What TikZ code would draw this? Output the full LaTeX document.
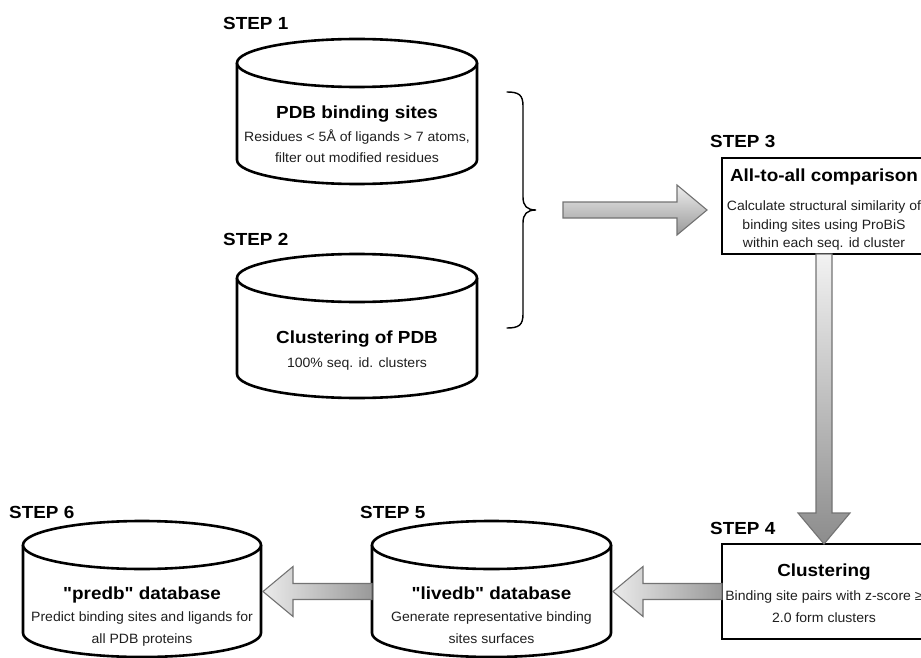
\documentclass[tikz,border=0pt]{standalone}
\usepackage{fontspec}
\setmainfont[FakeStretch=1.08, Ligatures=TeXOff]{Liberation Sans}
\newfontfamily\subfont[FakeStretch=1.04, Ligatures=TeXOff]{Liberation Sans}
\usetikzlibrary{calc}

\tikzset{
  cylline/.style={line width=2.6pt, black, line join=round},
  boxnode/.style={draw=black, line width=1.4pt, fill=white, inner sep=0pt, outer sep=0pt},
  steplabel/.style={font=\bfseries\fontsize{17.5}{20}\selectfont, anchor=base west, inner sep=0pt},
  ttl/.style={font=\bfseries\fontsize{17.5}{20}\selectfont, anchor=base, inner sep=0pt},
  sub/.style={font=\subfont\fontsize{13.5}{16}\selectfont, anchor=base, inner sep=0pt, text=black!88},
  blockarrow/.style={draw=black!55, line width=1.1pt, line join=miter},
  bracestyle/.style={draw=black, line width=1.4pt, line cap=round},
}

% database drum: name, centre x, top rim y, bottom rim y, half width
\newcommand\dbdrum[5]{%
  \node[minimum width={2*#5}, minimum height={#4-#3}, inner sep=0pt, outer sep=0pt] (#1) at (#2,{(#3+#4)/2}) {};
  \draw[cylline, fill=white] (#1.north west) -- (#1.south west)
     arc[start angle=180, end angle=0, x radius=#5, y radius=24] -- (#1.north east);
  \draw[cylline, fill=white] (#1.north) ellipse [x radius=#5, y radius=24];
}

% horizontal block arrow from tail #1 to tip #2, shading #3
\newcommand\blockarrowH[3]{%
  \path[blockarrow,#3] let \p1=(#1), \p2=(#2), \n1={ifthenelse(\x2>\x1,1,-1)} in
    (\x1,\y1+8pt) -- ({\x2-\n1*30pt},\y1+8pt) -- ({\x2-\n1*30pt},\y1+25pt) -- (\x2,\y1)
    -- ({\x2-\n1*30pt},\y1-25pt) -- ({\x2-\n1*30pt},\y1-8pt) -- (\x1,\y1-8pt) -- cycle;
}

% downward block arrow from tail #1 to tip #2, shading #3
\newcommand\blockarrowV[3]{%
  \path[blockarrow,#3] let \p1=(#1), \p2=(#2) in
    (\x1-8pt,\y1) -- (\x1-8pt,\y2+31pt) -- (\x1-26pt,\y2+31pt) -- (\x1,\y2)
    -- (\x1+26pt,\y2+31pt) -- (\x1+8pt,\y2+31pt) -- (\x1+8pt,\y1) -- cycle;
}

\begin{document}
\begin{tikzpicture}[x=1pt,y=-1pt]
\useasboundingbox (0,0) rectangle (921,658);
\clip (0,0) rectangle (921,658);

% ---- step labels
\node[steplabel] (s1) at (223,30)  {STEP 1};
\node[steplabel] (s2) at (223,245) {STEP 2};
\node[steplabel] (s3) at (710,148) {STEP 3};
\node[steplabel] (s4) at (710,534) {STEP 4};
\node[steplabel] (s5) at (360,518) {STEP 5};
\node[steplabel] (s6) at (9,518)   {STEP 6};

% ---- databases
\dbdrum{c1}{357}{63}{160}{120}
\dbdrum{c2}{357}{278}{374}{120}
\dbdrum{c5}{491.5}{545}{633}{119.5}
\dbdrum{c6}{142}{545}{633}{119}

\node[ttl] (c1t)  at (357,119)   {PDB binding sites};
\node[sub] (c1s1) at (357,141.5) {Residues < 5Å of ligands > 7 atoms,};
\node[sub] (c1s2) at (357,162.5) {filter out modified residues};

\node[ttl] (c2t)  at (357,343)   {Clustering of PDB};
\node[sub] (c2s1) at (357,367.5) {100\% seq. id. clusters};

\node[ttl] (c5t)  at (491.5,599)   {"livedb" database};
\node[sub] (c5s1) at (491.5,621.5) {Generate representative binding};
\node[sub] (c5s2) at (491.5,643.5) {sites surfaces};

\node[ttl] (c6t)  at (142,599)   {"predb" database};
\node[sub] (c6s1) at (142,621.5) {Predict binding sites and ligands for};
\node[sub] (c6s2) at (142,643.5) {all PDB proteins};

% ---- process boxes
\node[boxnode, minimum width=204, minimum height=96] (b3) at (824,206) {};
\node[ttl] (b3t)  at (824,181)   {All-to-all comparison};
\node[sub] (b3s1) at (824,210.5) {Calculate structural similarity of};
\node[sub] (b3s2) at (824,229.5) {binding sites using ProBiS};
\node[sub] (b3s3) at (824,247.5) {within each seq. id cluster};

\node[boxnode, minimum width=204, minimum height=95] (b4) at (824,591.5) {};
\node[ttl] (b4t)  at (824,576) {Clustering};
\node[sub] (b4s1) at (824,600) {Binding site pairs with z-score ≥};
\node[sub] (b4s2) at (824,622) {2.0 form clusters};

% ---- brace grouping steps 1 and 2
\coordinate (brace) at (536,210);
\draw[bracestyle] (507,92) .. controls (519,92) and (523,95) .. (523,106) -- (523,197)
   .. controls (523,206) and (527,210) .. (brace)
   .. controls (527,210) and (523,214) .. (523,223) -- (523,314)
   .. controls (523,325) and (519,328) .. (507,328);

% ---- block arrows
\coordinate (a1s) at ($(brace)+(27,0)$);
\coordinate (a1e) at ($(b3.west |- brace)+(-15,0)$);
\blockarrowH{a1s}{a1e}{top color=black!7, bottom color=black!40}

\blockarrowV{b3.south}{b4.north}{top color=black!5, bottom color=black!45}

\coordinate (a4e) at ($(b4.west -| c5.east)+(2,0)$);
\blockarrowH{b4.west}{a4e}{left color=black!8, right color=black!40}

\coordinate (a5s) at (c5.west |- b4.west);
\coordinate (a5e) at ($(b4.west -| c6.east)+(2,0)$);
\blockarrowH{a5s}{a5e}{left color=black!8, right color=black!40}

\end{tikzpicture}
\end{document}
